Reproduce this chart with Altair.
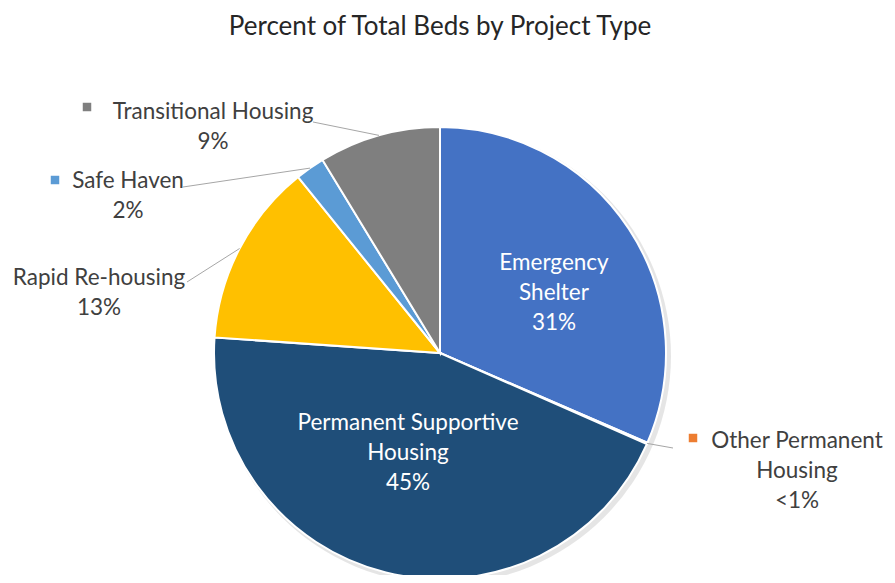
import altair as alt
import pandas as pd

# ---- data ----
categories = ["Emergency Shelter", "Other Permanent Housing", "Permanent Supportive Housing",
              "Rapid Re-housing", "Safe Haven", "Transitional Housing"]
shares = [31.5, 0.1, 44.5, 13.1, 2.1, 8.7]
pct_labels = ["31%", "<1%", "45%", "13%", "2%", "9%"]
label_text = ["Emergency\nShelter", "Other Permanent\nHousing", "Permanent Supportive\nHousing",
              "Rapid Re-housing", "Safe Haven", "Transitional Housing"]
colors = ["#4472C4", "#ED7D31", "#1F4E79", "#FFC000", "#5B9BD5", "#7F7F7F"]
title = "Percent of Total Beds by Project Type"

# ---- layout (pixels in plot area; text y = baseline of first line) ----
CX, CY, R = 432, 345, 226
FONT = "Lato"
label_pos = {
    "Emergency Shelter": (546, 262),
    "Other Permanent Housing": (789, 440),
    "Permanent Supportive Housing": (400, 422),
    "Rapid Re-housing": (91, 277),
    "Safe Haven": (120, 180),
    "Transitional Housing": (205, 111),
}
lead_end = {
    "Other Permanent Housing": (665, 440),
    "Rapid Re-housing": (179, 274),
    "Safe Haven": (175, 179),
    "Transitional Housing": (305, 114),
}
marker_pos = {
    "Other Permanent Housing": (685, 430),
    "Safe Haven": (47, 172),
    "Transitional Housing": (79, 99),
}
inside = {"Emergency Shelter", "Permanent Supportive Housing"}

df = pd.DataFrame({"category": categories, "share": shares, "pct": pct_labels,
                   "order": list(range(len(categories)))})
df["full"] = [f"{l}\n{p}" for l, p in zip(label_text, pct_labels)]
df["lx"] = [label_pos[c][0] for c in categories]
df["ly"] = [label_pos[c][1] for c in categories]
df["tcolor"] = ["#FFFFFF" if c in inside else "#404040" for c in categories]
df["lead_x"] = [lead_end[c][0] if c in lead_end else None for c in categories]
df["lead_y"] = [lead_end[c][1] if c in lead_end else None for c in categories]
df["mx"] = [marker_pos[c][0] if c in marker_pos else None for c in categories]
df["my"] = [marker_pos[c][1] if c in marker_pos else None for c in categories]

color_scale = alt.Scale(domain=categories, range=colors)

shadow = alt.Chart(df).transform_aggregate(total="sum(share)").mark_arc(
    radius=R + 2, color="#000000", opacity=0.10
).encode(theta=alt.Theta("total:Q"), x=alt.value(CX + 3), y=alt.value(CY + 3))

pie = alt.Chart(df).mark_arc(radius=R, stroke="white", strokeWidth=2).encode(
    theta=alt.Theta("share:Q", stack=True),
    color=alt.Color("category:N", scale=color_scale, legend=None),
    order=alt.Order("order:Q"),
    x=alt.value(CX), y=alt.value(CY),
)

lines = alt.Chart(df).transform_window(
    cum="sum(share)", sort=[alt.SortField("order")], frame=[None, 0]
).transform_joinaggregate(total="sum(share)").transform_calculate(
    mid="(datum.cum - datum.share / 2) / datum.total * 2 * PI",
    ex=f"{CX} + {R} * sin(datum.mid)",
    ey=f"{CY} - {R} * cos(datum.mid)",
).transform_filter("isValid(datum.lead_x)").mark_rule(
    color="#A6A6A6", strokeWidth=1
).encode(
    x=alt.X("ex:Q", scale=None, axis=None), y=alt.Y("ey:Q", scale=None, axis=None),
    x2="lead_x:Q", y2="lead_y:Q",
)

markers = alt.Chart(df).transform_filter("isValid(datum.mx)").mark_square(
    size=72, opacity=1
).encode(
    x=alt.X("mx:Q", scale=None, axis=None), y=alt.Y("my:Q", scale=None, axis=None),
    color=alt.Color("category:N", scale=color_scale, legend=None),
)

texts = alt.Chart(df).mark_text(
    font=FONT, fontSize=22.5, lineBreak="\n", lineHeight=30, align="center", baseline="alphabetic"
).encode(
    x=alt.X("lx:Q", scale=None, axis=None), y=alt.Y("ly:Q", scale=None, axis=None),
    text="full:N", color=alt.Color("tcolor:N", scale=None),
)

title_mark = alt.Chart(pd.DataFrame({"t": [title]})).mark_text(
    font=FONT, fontSize=26, color="#262626", align="center", baseline="alphabetic"
).encode(x=alt.value(432), y=alt.value(27), text="t:N")

chart = alt.layer(shadow, pie, lines, markers, texts, title_mark).properties(
    width=879, height=567, autosize="none", padding=0
).configure_view(stroke=None)

chart.save("out.html", embed_options={"renderer": "svg", "actions": False})
